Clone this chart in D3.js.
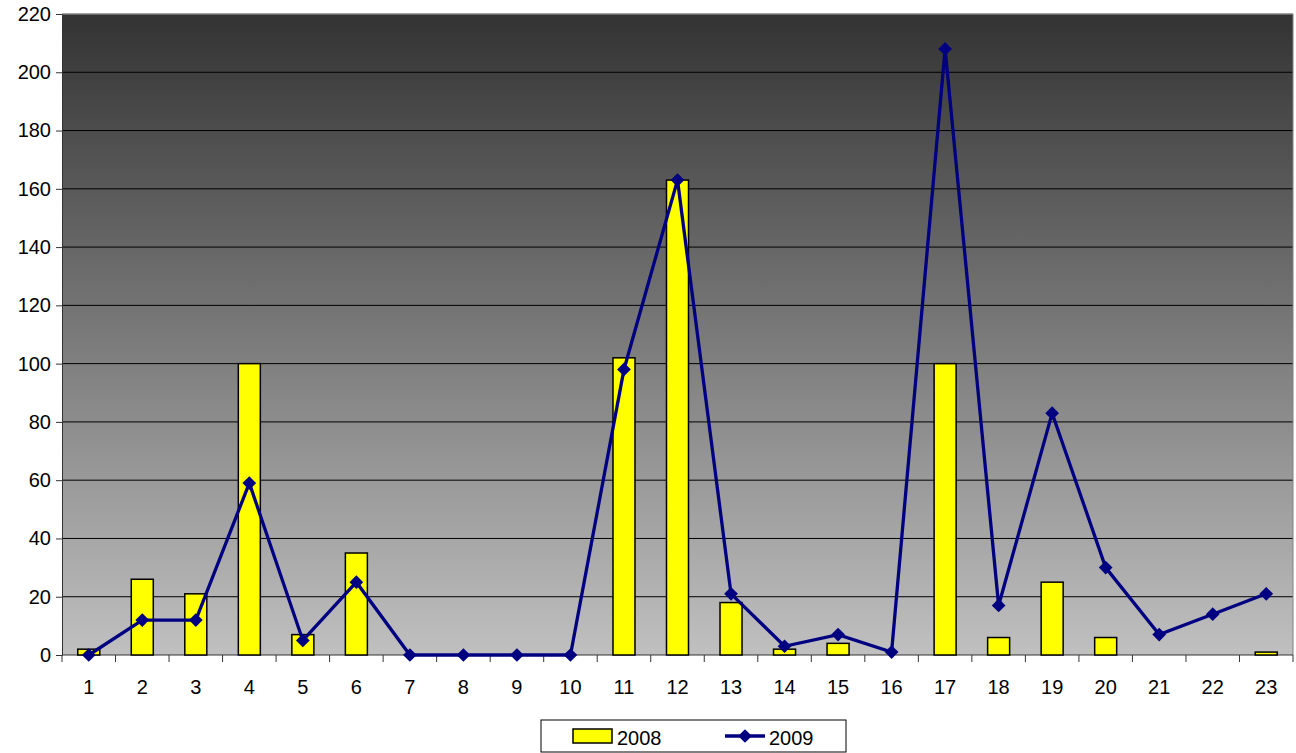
<!DOCTYPE html>
<html>
<head>
<meta charset="utf-8">
<script src="https://cdn.jsdelivr.net/npm/d3@7"></script>
<style>
  body { margin: 0; background: #fff; }
  svg text { font-family: "Liberation Sans", Arial, sans-serif; }
</style>
</head>
<body>
<div id="chart"></div>
<script>
// data
const categories = d3.range(1, 24).map(String);
const values2008 = [2, 26, 21, 100, 7, 35, 0, 0, 0, 0, 102, 163, 18, 2, 4, 0, 100, 6, 25, 6, 0, 0, 1];
const values2009 = [0, 12, 12, 59, 5, 25, 0, 0, 0, 0, 98, 163, 21, 3, 7, 1, 208, 17, 83, 30, 7, 14, 21];
const yTicks = [0, 20, 40, 60, 80, 100, 120, 140, 160, 180, 200, 220];
const seriesNames = ["2008", "2009"];

const svgWidth = 1296, svgHeight = 753;
const margin = { top: 14, right: 3, bottom: 98, left: 62 };
const width = svgWidth - margin.left - margin.right;
const height = svgHeight - margin.top - margin.bottom;
const fontSize = 20;

const svg = d3.select("#chart").append("svg")
  .attr("width", svgWidth)
  .attr("height", svgHeight);

const defs = svg.append("defs");
const grad = defs.append("linearGradient")
  .attr("id", "bg").attr("x1", "0%").attr("x2", "0%").attr("y1", "0%").attr("y2", "100%");
grad.append("stop").attr("offset", "0%").attr("stop-color", "#333333");
grad.append("stop").attr("offset", "100%").attr("stop-color", "#c0c0c0");

const g = svg.append("g").attr("transform", `translate(${margin.left},${margin.top})`);

const x = d3.scaleBand().domain(categories).range([0, width]);
const y = d3.scaleLinear().domain([0, 220]).range([height, 0]);

// plot background
g.append("rect").attr("width", width).attr("height", height).attr("fill", "url(#bg)");

// gridlines
g.append("g").selectAll("line")
  .data(yTicks.filter(d => d > 0 && d < 220))
  .enter().append("line")
  .attr("x1", 0).attr("x2", width)
  .attr("y1", d => y(d)).attr("y2", d => y(d))
  .attr("stroke", "#000").attr("stroke-width", 1);

// top/right border
g.append("line").attr("x1", 0).attr("x2", width).attr("y1", y(220)).attr("y2", y(220))
  .attr("stroke", "#808080").attr("stroke-width", 1.5);
g.append("line").attr("x1", width).attr("x2", width).attr("y1", 0).attr("y2", height)
  .attr("stroke", "#808080").attr("stroke-width", 1);

// y axis
const yAxis = g.append("g")
  .call(d3.axisLeft(y).tickValues(yTicks).tickSize(6).tickPadding(5).tickSizeOuter(0));
yAxis.select(".domain").attr("stroke", "#333");
yAxis.selectAll(".tick line").attr("stroke", "#333");
yAxis.selectAll("text").attr("font-size", fontSize).attr("fill", "#000");

// x axis: ticks at category boundaries
const xAxisG = g.append("g").attr("transform", `translate(0,${height})`);
xAxisG.append("line").attr("x1", 0).attr("x2", width).attr("stroke", "#333");
xAxisG.selectAll(".bt")
  .data(d3.range(categories.length + 1))
  .enter().append("line")
  .attr("x1", i => x.step() * i).attr("x2", i => x.step() * i)
  .attr("y1", 0).attr("y2", 7)
  .attr("stroke", "#333");
xAxisG.selectAll(".lbl")
  .data(categories)
  .enter().append("text")
  .attr("x", d => x(d) + x.bandwidth() / 2)
  .attr("y", 39)
  .attr("text-anchor", "middle")
  .attr("font-size", fontSize)
  .text(d => d);

// bars 2008
const barW = 22;
g.append("g").selectAll("rect")
  .data(values2008.map((v, i) => ({ c: categories[i], v })))
  .enter().append("rect")
  .attr("x", d => x(d.c) + x.bandwidth() / 2 - barW / 2)
  .attr("width", barW)
  .attr("y", d => y(d.v))
  .attr("height", d => Math.max(0, y(0) - y(d.v)))
  .attr("fill", "#ffff00")
  .attr("stroke", "#000")
  .attr("stroke-width", 1.5)
  .attr("display", d => d.v > 0 ? null : "none");

// line 2009
const pts = values2009.map((v, i) => ({ c: categories[i], v }));
const line = d3.line()
  .x(d => x(d.c) + x.bandwidth() / 2)
  .y(d => y(d.v));
g.append("path")
  .attr("d", line(pts))
  .attr("fill", "none")
  .attr("stroke", "#000080")
  .attr("stroke-width", 3.3);

const diamond = d3.symbol().type(d3.symbolDiamond2).size(120);
g.append("g").selectAll("path")
  .data(pts)
  .enter().append("path")
  .attr("transform", d => `translate(${x(d.c) + x.bandwidth() / 2},${y(d.v)})`)
  .attr("d", diamond)
  .attr("fill", "#000080");

// legend
const legend = svg.append("g").attr("transform", "translate(541,720)");
legend.append("rect").attr("width", 305).attr("height", 32)
  .attr("fill", "#fff").attr("stroke", "#000").attr("stroke-width", 1);
legend.append("rect").attr("x", 32).attr("y", 9).attr("width", 39).attr("height", 14)
  .attr("fill", "#ffff00").attr("stroke", "#000").attr("stroke-width", 1.5);
legend.append("text").attr("x", 76).attr("y", 25).attr("font-size", fontSize).text(seriesNames[0]);
legend.append("line").attr("x1", 184).attr("x2", 224).attr("y1", 16).attr("y2", 16)
  .attr("stroke", "#000080").attr("stroke-width", 3.3);
legend.append("path").attr("transform", "translate(204,16)").attr("d", diamond).attr("fill", "#000080");
legend.append("text").attr("x", 228).attr("y", 25).attr("font-size", fontSize).text(seriesNames[1]);
</script>
</body>
</html>
